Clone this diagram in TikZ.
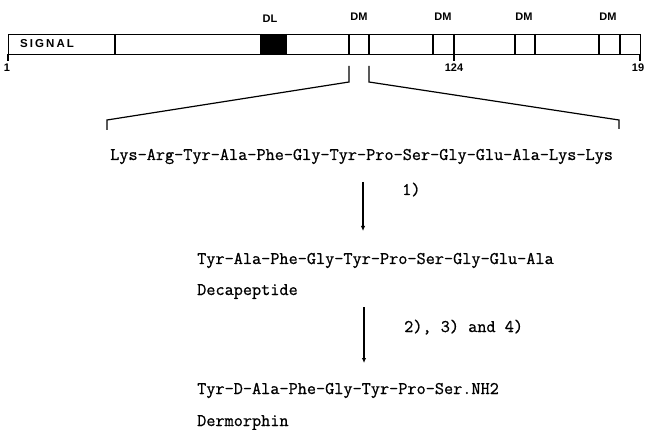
\documentclass[tikz,border=0pt]{standalone}
\usepackage{fontspec}
\setmainfont{Liberation Sans}
\newfontfamily\monofnt[FakeBold=0.8]{Latin Modern Mono}
\newfontfamily\barfnt[LetterSpace=18]{Liberation Sans Bold}
\usetikzlibrary{arrows.meta}
\begin{document}
\begin{tikzpicture}[x=1pt,y=-1pt,
  barline/.style={line width=1.4pt},
  brline/.style={line width=1.2pt},
  seq/.style={anchor=base west,inner sep=0pt,font=\monofnt\fontsize{17.75}{19}\selectfont},
  barlab/.style={anchor=base,inner sep=0pt,font=\bfseries\fontsize{11}{13}\selectfont},
  numlab/.style={anchor=base,inner sep=0pt,font=\bfseries\fontsize{11}{13}\selectfont},
  steparrow/.style={line width=1.3pt,-{Latex[length=5pt,width=4.5pt]}}]
\useasboundingbox (0,0) rectangle (645,430);
% protein bar
\node[barline,draw,rectangle,minimum width=632pt,minimum height=20pt,inner sep=0pt,anchor=north west] (bar) at (8,34) {};
\fill (261,34) rectangle (286,54);
\foreach \x in {115,261,286,349,369,433,454,515,535,599,620}
  \draw[barline] (\x,34) -- (\x,54);
\node[anchor=base west,inner sep=0pt,font=\barfnt\fontsize{11.5}{13}\selectfont] (signal) at (20,48) {SIGNAL};
\node[barlab] (dl) at (270,23) {DL};
\node[barlab] (dm1) at (359,21) {DM};
\node[barlab] (dm2) at (443,21) {DM};
\node[barlab] (dm3) at (524,21) {DM};
\node[barlab] (dm4) at (608,21) {DM};
% ticks and numbers
\draw[brline] (8,54) -- (8,61);
\draw[brline] (454,54) -- (454,61);
\draw[brline] (640,54) -- (640,61);
\node[numlab] (n1) at (7,72) {1};
\node[numlab] (n124) at (454,72) {124};
\node[numlab] (n19) at (638,72) {19};
% expansion bracket
\draw[brline] (349,66) -- (349,82) -- (107,120) -- (107,130);
\draw[brline] (369,66) -- (369,82) -- (619,120) -- (619,129);
% sequences
\node[seq] (prec) at (110,160) {Lys-Arg-Tyr-Ala-Phe-Gly-Tyr-Pro-Ser-Gly-Glu-Ala-Lys-Lys};
\node[seq] (deca) at (197,264) {Tyr-Ala-Phe-Gly-Tyr-Pro-Ser-Gly-Glu-Ala};
\node[seq] (decalab) at (197,295) {Decapeptide};
\node[seq] (derm) at (197,394) {Tyr-D-Ala-Phe-Gly-Tyr-Pro-Ser.NH2};
\node[seq] (dermlab) at (197,426) {Dermorphin};
% steps
\coordinate (a1s) at (363,182);
\coordinate (a1e) at (363,231);
\coordinate (a2s) at (364,307);
\coordinate (a2e) at (364,363);
\draw[steparrow] (a1s) -- (a1e);
\draw[steparrow] (a2s) -- (a2e);
\node[seq] (s1) at (402,195) {1)};
\node[seq] (s234) at (404,332) {2), 3) and 4)};
\end{tikzpicture}
\end{document}
